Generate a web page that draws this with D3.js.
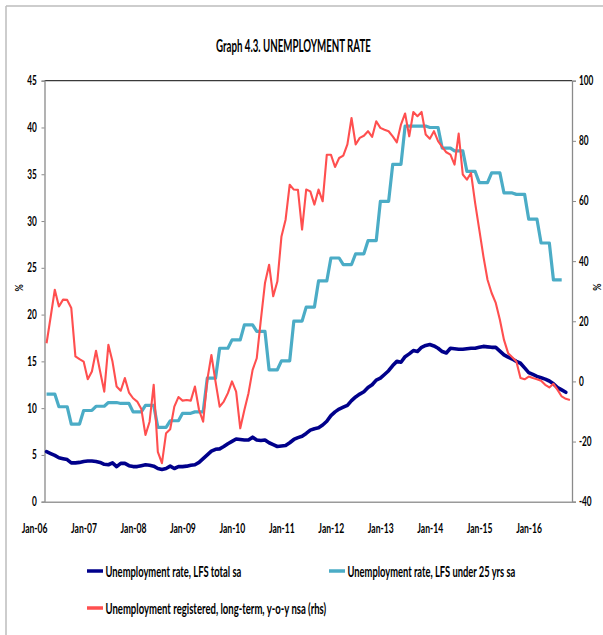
<!DOCTYPE html>
<html>
<head>
<meta charset="utf-8">
<script src="https://cdn.jsdelivr.net/npm/d3@7"></script>
<style>
  html, body { margin: 0; padding: 0; background: #ffffff; }
  svg { display: block; }
  text { font-family: Lato, "Open Sans", "DejaVu Sans", sans-serif; font-weight: 700; fill: #000; }
</style>
</head>
<body>
<svg id="chart" width="603" height="635"></svg>
<script>
// ---------------- DATA ----------------
const titleText = "Graph 4.3. UNEMPLOYMENT RATE";
const startYear = 2006;
const monthCount = 128; // Jan-06 ... Aug-16
const xTickLabels = ["Jan-06","Jan-07","Jan-08","Jan-09","Jan-10","Jan-11","Jan-12","Jan-13","Jan-14","Jan-15","Jan-16"];
const leftTicks = [0,5,10,15,20,25,30,35,40,45];
const rightTicks = [-40,-20,0,20,40,60,80,100];

const seriesNames = [
  "Unemployment rate, LFS total sa",
  "Unemployment rate, LFS under 25 yrs sa",
  "Unemployment registered, long-term, y-o-y nsa (rhs)"
];

// Monthly, Jan-06 .. Jul-16 (left axis, %)
const lfsTotal = [
  5.35,5.15,4.95,4.7,4.6,4.5,4.15,4.15,4.2,4.3,4.35,4.35,
  4.3,4.2,4.0,3.95,4.15,3.75,4.1,4.1,3.85,3.75,3.75,3.85,
  3.95,3.9,3.8,3.55,3.45,3.55,3.8,3.55,3.75,3.75,3.8,3.9,
  3.95,4.2,4.6,5.0,5.4,5.6,5.65,5.9,6.2,6.45,6.7,6.65,
  6.6,6.6,6.9,6.6,6.55,6.6,6.3,6.1,5.9,5.95,6.0,6.3,
  6.65,6.85,7.0,7.3,7.65,7.8,7.9,8.2,8.6,9.2,9.6,9.9,
  10.1,10.3,10.8,11.2,11.5,11.75,12.2,12.5,13.0,13.2,13.6,14.0,
  14.55,15.0,14.9,15.5,15.8,16.15,16.05,16.5,16.7,16.8,16.65,16.4,
  16.05,15.9,16.4,16.35,16.3,16.3,16.35,16.4,16.4,16.5,16.6,16.55,
  16.5,16.5,16.1,15.7,15.45,15.25,15.0,14.8,14.3,13.8,13.6,13.4,
  13.25,13.1,12.9,12.6,12.2,11.95,11.7
];

// Quarterly, Q1-06 .. Q2-16 (left axis, %), each quarter shown over its 3 months
const lfsUnder25 = [
  11.5,10.15,8.3,9.75,
  10.2,10.6,10.5,9.6,
  10.3,7.95,8.65,9.45,
  9.6,13.2,16.4,17.3,
  18.9,18.2,14.1,15.05,
  19.3,20.8,23.6,26.05,
  25.35,26.5,27.9,32.1,
  36.05,40.15,40.15,40.0,
  37.8,37.5,35.3,34.1,
  35.15,33.0,32.85,30.2,
  27.65,23.7
];

// Monthly, Jan-06 .. Aug-16 (right axis, % y-o-y)
const registeredLongTerm = [
  12.7,21.5,30.5,24.9,27.2,27.1,24.4,8.3,7.4,6.6,0.75,3.3,
  10.2,3.3,-3.4,12.2,6.6,-1.7,-3.1,1.1,-3.7,-5.6,-6.7,-9.2,
  -17.8,-13.4,-1.1,-23.4,-27.2,-17.2,-15.9,-8.4,-5.2,-6.4,-6.2,-6.4,
  -1.7,-9.5,-13.4,0.5,8.8,-0.05,-8.4,-6.7,-3.9,0.0,-3.4,-15.6,
  -9.5,-3.9,3.85,7.7,20.5,32.7,38.8,28.3,33.2,48.2,53.8,65.4,
  63.8,63.7,50.5,63.8,63.2,58.8,63.8,59.9,75.4,75.4,71.3,74.3,
  75.1,78.8,87.6,78.8,81.0,81.7,83.2,81.3,86.5,84.3,83.7,83.2,
  81.5,79.5,85.4,89.1,81.5,89.6,88.2,89.6,82.1,80.7,83.2,79.9,
  78.0,76.2,75.4,72.1,82.4,68.8,67.1,69.3,59.3,50.5,41.6,33.8,
  29.4,26.1,20.5,13.8,9.4,8.0,6.6,1.1,0.7,1.6,1.1,0.7,
  0.2,-1.15,-2.0,-0.8,-2.8,-5.0,-5.8,-6.2
];

const colors = ["#00008B", "#4BACC6", "#FF4F4F"];

// ---------------- LAYOUT ----------------
const svg = d3.select("#chart");
const plot = { left: 44.5, right: 572, top: 80.7, bottom: 501.7 };

const x = d3.scaleLinear().domain([-0.5, monthCount - 0.5]).range([plot.left, plot.right]);
const yL = d3.scaleLinear().domain([0, 45]).range([plot.bottom, plot.top]);
const yR = d3.scaleLinear().domain([-40, 100]).range([plot.bottom, plot.top]);

svg.append("rect").attr("width", 603).attr("height", 635).attr("fill", "#fff");

// outer frame (left and top edges visible)
svg.append("line").attr("x1", 6).attr("y1", 6).attr("x2", 603).attr("y2", 6)
  .attr("stroke", "#bdbdbd").attr("stroke-width", 1.5);
svg.append("line").attr("x1", 6).attr("y1", 6).attr("x2", 6).attr("y2", 635)
  .attr("stroke", "#bdbdbd").attr("stroke-width", 1.5);

// squeezed text helper (fixed horizontal scale)
function sqText(g, tx, ty, str, size, anchor, sx) {
  return g.append("text")
    .attr("transform", `translate(${tx},${ty}) scale(${sx},1)`)
    .attr("text-anchor", anchor)
    .style("font-size", size + "px")
    .text(str);
}
// squeezed text fitted to a target width (left-anchored)
function fitText(g, tx, ty, str, size, width) {
  const t = g.append("text")
    .attr("text-anchor", "start")
    .style("font-size", size + "px")
    .text(str);
  const natural = t.node().getComputedTextLength() || width;
  const sx = width / natural;
  t.attr("transform", `translate(${tx},${ty}) scale(${sx},1)`);
  return t;
}

// Title
fitText(svg, 216, 52, titleText, 17, 155);

// Plot frame
svg.append("line").attr("x1", plot.left).attr("x2", plot.right).attr("y1", plot.top).attr("y2", plot.top)
  .attr("stroke", "#3a3a3a").attr("stroke-width", 1.2);

// Left axis
const leftAxis = d3.axisLeft(yL).tickValues(leftTicks).tickSize(3).tickFormat("");
const gL = svg.append("g").attr("transform", `translate(${plot.left},0)`).call(leftAxis);
gL.select(".domain").attr("stroke", "#8a8a8a").attr("stroke-width", 1.3);
gL.selectAll(".tick line").attr("stroke", "#8a8a8a");
leftTicks.forEach(v => sqText(svg, 36.7, yL(v) + 4.5, String(v), 12.5, "end", 0.66));

// Right axis
const rightAxis = d3.axisRight(yR).tickValues(rightTicks).tickSize(4).tickFormat("");
const gR = svg.append("g").attr("transform", `translate(${plot.right},0)`).call(rightAxis);
gR.select(".domain").attr("stroke", "#8a8a8a").attr("stroke-width", 1.3);
gR.selectAll(".tick line").attr("stroke", "#8a8a8a");
rightTicks.forEach(v => sqText(svg, 579, yR(v) + 4.5, String(v), 12.5, "start", 0.66));

// Bottom axis
const bottomAxis = d3.axisBottom(x).tickValues([]).tickSize(0).tickFormat("");
const gB = svg.append("g").attr("transform", `translate(0,${plot.bottom})`).call(bottomAxis);
gB.select(".domain").attr("stroke", "#9a9a9a").attr("stroke-width", 1.6);
xTickLabels.forEach((lab, k) => sqText(svg, x(12 * k) - 12, 533, lab, 13, "middle", 0.66));

// Axis unit labels
svg.append("text").attr("transform", "translate(23,288) rotate(-90) scale(0.8,1)")
  .attr("text-anchor", "middle").style("font-size", "11px").text("%");
svg.append("text").attr("transform", "translate(593,287) rotate(90) scale(0.8,1)")
  .attr("text-anchor", "middle").style("font-size", "11px").text("%");

// ---------------- SERIES ----------------
const g = svg.append("g");

const lineBlue = d3.line().x((d, i) => x(i)).y(d => yL(d));
g.append("path").datum(lfsTotal).attr("d", lineBlue)
  .attr("fill", "none").attr("stroke", colors[0]).attr("stroke-width", 3.6)
  .attr("stroke-linejoin", "round").attr("stroke-linecap", "round");

const youthPts = [];
lfsUnder25.forEach((v, q) => { youthPts.push([3 * q, v]); youthPts.push([3 * q + 2, v]); });
const lineCyan = d3.line().x(d => x(d[0])).y(d => yL(d[1]));
g.append("path").datum(youthPts).attr("d", lineCyan)
  .attr("fill", "none").attr("stroke", colors[1]).attr("stroke-width", 3.2)
  .attr("stroke-linejoin", "round");

const lineRed = d3.line().x((d, i) => x(i)).y(d => yR(d));
g.append("path").datum(registeredLongTerm).attr("d", lineRed)
  .attr("fill", "none").attr("stroke", colors[2]).attr("stroke-width", 2.1)
  .attr("stroke-linejoin", "round");

// ---------------- LEGEND ----------------
const legendItems = [
  { name: seriesNames[0], color: colors[0], x: 87, y: 571, w: 136 },
  { name: seriesNames[1], color: colors[1], x: 329, y: 571, w: 168 },
  { name: seriesNames[2], color: colors[2], x: 87, y: 608, w: 221 }
];
const lg = svg.append("g");
legendItems.forEach(it => {
  lg.append("line").attr("x1", it.x).attr("x2", it.x + 16).attr("y1", it.y).attr("y2", it.y)
    .attr("stroke", it.color).attr("stroke-width", 3.5);
  fitText(lg, it.x + 18.5, it.y + 6, it.name, 16, it.w);
});
</script>
</body>
</html>
